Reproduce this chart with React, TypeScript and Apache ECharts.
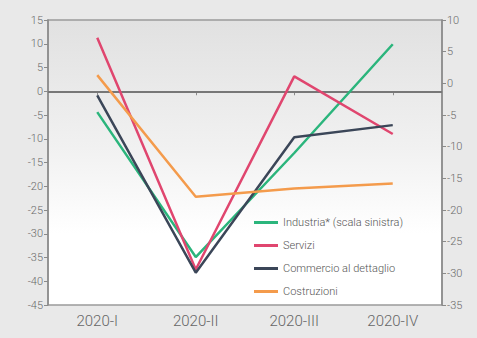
import React, { useEffect, useRef } from "react";
import * as echarts from "echarts";

const categories = ["2020-I", "2020-II", "2020-III", "2020-IV"];
const industria = [-4.4, -34.9, -13, 9.9];
const servizi = [7.2, -29.4, 1.1, -8.0];
const commercio = [-1.9, -29.9, -8.5, -6.6];
const costruzioni = [1.3, -17.9, -16.6, -15.8];
const seriesNames = [
  "Industria* (scala sinistra)",
  "Servizi",
  "Commercio al dettaglio",
  "Costruzioni",
];
const colors = ["#2bb57c", "#e0466f", "#3b4658", "#f49b4c"];

export default function App() {
  const ref = useRef<HTMLDivElement>(null);
  useEffect(() => {
    if (!ref.current) return;
    const chart = echarts.init(ref.current, null, { renderer: "svg" });
    const font = "Roboto, 'DejaVu Sans', sans-serif";
    const axisLine = { show: true, lineStyle: { color: "#8a8a8a", width: 1.5 } };
    const axisTick = { show: true, length: 4, lineStyle: { color: "#8a8a8a", width: 1 } };
    const axisLabel = { color: "#6a6a6a", fontSize: 11, fontFamily: font, fontWeight: 300, margin: 5 };
    const mk = (i: number, data: number[], yAxisIndex: number) => ({
      name: seriesNames[i],
      type: "line",
      data,
      yAxisIndex,
      symbol: "none",
      lineStyle: { color: colors[i], width: 2.5 },
      itemStyle: { color: colors[i] },
      z: 3,
    });
    chart.setOption({
      animation: false,
      backgroundColor: "#e9e9e9",
      color: colors,
      grid: {
        left: 48,
        right: 35,
        top: 20,
        bottom: 33,
        show: true,
        borderColor: "#9a9a9a",
        borderWidth: 1.5,
        backgroundColor: new echarts.graphic.LinearGradient(0, 0, 0, 1, [
          { offset: 0, color: "#e1e1e1" },
          { offset: 0.45, color: "#f1f1f1" },
          { offset: 0.75, color: "#ffffff" },
          { offset: 1, color: "#ffffff" },
        ]),
      },
      legend: {
        orient: "vertical",
        left: 249,
        top: 212,
        itemWidth: 24,
        itemHeight: 3,
        itemGap: 12,
        icon: "rect",
        textStyle: { color: "#555", fontSize: 11, fontFamily: font, fontWeight: 300 },
        data: seriesNames,
      },
      xAxis: {
        type: "category",
        data: categories,
        boundaryGap: true,
        axisLine,
        axisTick: { ...axisTick, alignWithLabel: true },
        axisLabel: { color: "#666", fontSize: 15, fontFamily: font, fontWeight: 300, margin: 8 },
        splitLine: { show: false },
      },
      yAxis: [
        {
          type: "value",
          min: -45,
          max: 15,
          interval: 5,
          position: "left",
          axisLine,
          axisTick,
          axisLabel,
          splitLine: { show: false },
        },
        {
          type: "value",
          min: -35,
          max: 10,
          interval: 5,
          position: "right",
          axisLine,
          axisTick,
          axisLabel,
          splitLine: { show: false },
        },
      ],
      series: [
        {
          ...mk(0, industria, 0),
          markLine: {
            silent: true,
            symbol: "none",
            label: { show: false },
            lineStyle: { color: "#777", width: 2, type: "solid" },
            data: [{ yAxis: 0 }],
            z: 1,
          },
        },
        mk(1, servizi, 1),
        mk(2, commercio, 1),
        mk(3, costruzioni, 1),
      ],
    });
    return () => chart.dispose();
  }, []);
  return <div ref={ref} style={{ position: "fixed", left: 0, top: 0, width: 477, height: 338 }} />;
}
